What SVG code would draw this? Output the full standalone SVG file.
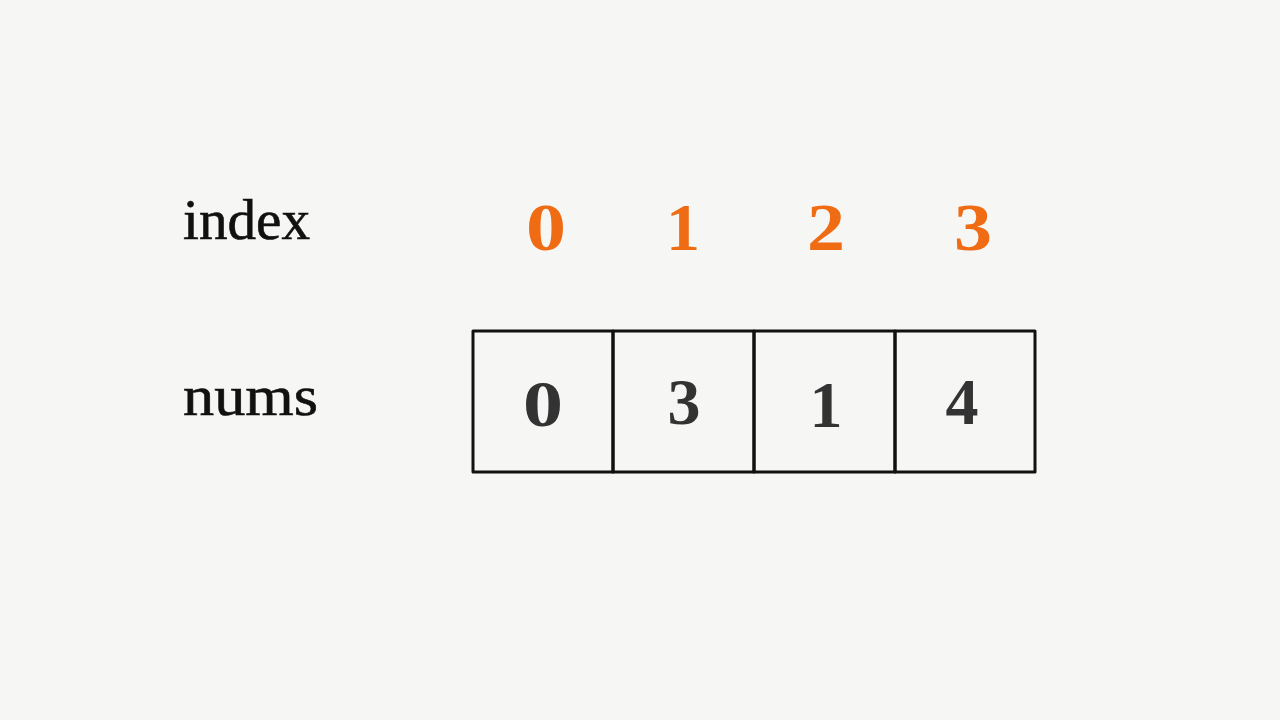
<svg xmlns="http://www.w3.org/2000/svg" width="1280" height="720" viewBox="0 0 1280 720">
<style>
.lbl{font-family:"Liberation Serif","DejaVu Serif",serif;font-size:56px;fill:#111;stroke:#111;stroke-width:0.6}
.idx{font-family:"Liberation Serif","DejaVu Serif",serif;font-size:68px;fill:#ef6c14;text-anchor:middle;font-weight:bold}
.val{font-family:"Liberation Serif","DejaVu Serif",serif;font-size:66px;fill:#333;text-anchor:middle;font-weight:bold}
.cell{fill:none;stroke:#111;stroke-width:3;stroke-linejoin:round}
</style>
<rect x="0" y="0" width="1280" height="720" fill="#f6f6f4"/>
<g id="labels">
<text class="lbl" x="183" y="239" textLength="127" lengthAdjust="spacingAndGlyphs">index</text>
<text class="lbl" x="183" y="415" textLength="135" lengthAdjust="spacingAndGlyphs">nums</text>
</g>
<g id="indices">
<text class="idx" x="546" y="250" textLength="40" lengthAdjust="spacingAndGlyphs">0</text>
<text class="idx" x="683" y="250">1</text>
<text class="idx" x="826" y="250" textLength="38" lengthAdjust="spacingAndGlyphs">2</text>
<text class="idx" x="973" y="250" textLength="38" lengthAdjust="spacingAndGlyphs">3</text>
</g>
<g id="cell0"><rect class="cell" x="473" y="331" width="140" height="141"/><text class="val" x="543" y="426" textLength="40" lengthAdjust="spacingAndGlyphs">0</text></g>
<g id="cell1"><rect class="cell" x="613" y="331" width="141" height="141"/><text class="val" x="684" y="424">3</text></g>
<g id="cell2"><rect class="cell" x="754" y="331" width="141" height="141"/><text class="val" x="826" y="427">1</text></g>
<g id="cell3"><rect class="cell" x="895" y="331" width="140" height="141"/><text class="val" x="962" y="424">4</text></g>
<g id="connectors"></g>
</svg>
